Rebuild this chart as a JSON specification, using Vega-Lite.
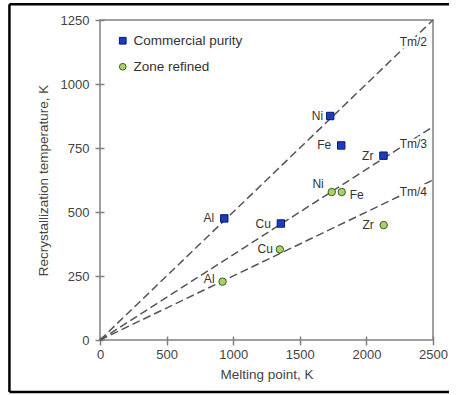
{
  "$schema": "https://vega.github.io/schema/vega-lite/v6.json",
  "width": 333,
  "height": 320,
  "autosize": {"type": "none"},
  "padding": {"left": 100, "top": 20, "right": 26, "bottom": 55},
  "background": "white",
  "config": {
    "font": "Liberation Sans",
    "view": {"stroke": "#808080", "strokeWidth": 1.5},
    "axis": {
      "domain": false,
      "grid": false,
      "offset": -4,
      "tickSize": 9,
      "tickColor": "#808080",
      "tickWidth": 1.5,
      "labelFlush": false,
      "labelFontSize": 13,
      "labelColor": "#444444",
      "titleFontSize": 13.5,
      "titleFontWeight": "normal",
      "titleColor": "#444444"
    },
    "legend": {
      "orient": "none",
      "legendX": 16,
      "legendY": 14,
      "padding": 0,
      "rowPadding": 11,
      "labelFontSize": 13.5,
      "labelColor": "#333333",
      "labelOffset": 4,
      "symbolSize": 45,
      "symbolStrokeWidth": 1
    }
  },
  "datasets": {
    "points": [
      {"metal": "Al", "purity": "Commercial purity", "tm": 933, "tr": 475},
      {"metal": "Cu", "purity": "Commercial purity", "tm": 1358, "tr": 455},
      {"metal": "Ni", "purity": "Commercial purity", "tm": 1728, "tr": 875},
      {"metal": "Fe", "purity": "Commercial purity", "tm": 1811, "tr": 760},
      {"metal": "Zr", "purity": "Commercial purity", "tm": 2128, "tr": 720},
      {"metal": "Al", "purity": "Zone refined", "tm": 920, "tr": 228},
      {"metal": "Cu", "purity": "Zone refined", "tm": 1350, "tr": 354},
      {"metal": "Ni", "purity": "Zone refined", "tm": 1740, "tr": 578},
      {"metal": "Fe", "purity": "Zone refined", "tm": 1815, "tr": 578},
      {"metal": "Zr", "purity": "Zone refined", "tm": 2130, "tr": 449}
    ],
    "lines": [
      {"series": "Tm/2", "tm": 0, "tr": 0},
      {"series": "Tm/2", "tm": 2500, "tr": 1250},
      {"series": "Tm/3", "tm": 0, "tr": 0},
      {"series": "Tm/3", "tm": 2500, "tr": 833.3},
      {"series": "Tm/4", "tm": 0, "tr": 0},
      {"series": "Tm/4", "tm": 2500, "tr": 625}
    ],
    "lineLabels": [
      {"label": "Tm/2", "tm": 2455, "tr": 1165},
      {"label": "Tm/3", "tm": 2455, "tr": 766},
      {"label": "Tm/4", "tm": 2455, "tr": 579}
    ],
    "frame": [
      {"side": "top", "x1": -680, "x2": 2620, "y1": 1312, "y2": 1312},
      {"side": "bottom", "x1": -680, "x2": 2620, "y1": -203, "y2": -203},
      {"side": "left", "x1": -680, "x2": -680, "y1": -203, "y2": 1312}
    ]
  },
  "layer": [
    {
      "data": {"name": "frame"},
      "mark": {"type": "rule", "stroke": "black", "strokeWidth": 2.5, "clip": false},
      "encoding": {
        "x": {"field": "x1", "type": "quantitative", "scale": {"domain": [0, 2500], "nice": false}},
        "x2": {"field": "x2"},
        "y": {"field": "y1", "type": "quantitative", "scale": {"domain": [0, 1250], "nice": false}},
        "y2": {"field": "y2"},
        "detail": {"field": "side"}
      }
    },
    {
      "data": {"name": "lines"},
      "mark": {"type": "line", "stroke": "#555555", "strokeWidth": 1.5, "strokeDash": [8, 4]},
      "encoding": {
        "x": {"field": "tm", "type": "quantitative"},
        "y": {"field": "tr", "type": "quantitative"},
        "detail": {"field": "series"}
      }
    },
    {
      "data": {"name": "points"},
      "mark": {"type": "point", "filled": true, "opacity": 1, "size": 55, "strokeWidth": 1},
      "encoding": {
        "x": {
          "field": "tm", "type": "quantitative",
          "title": "Melting point, K",
          "axis": {"values": [0, 500, 1000, 1500, 2000, 2500], "format": "d", "labelPadding": 3, "titlePadding": 6}
        },
        "y": {
          "field": "tr", "type": "quantitative",
          "title": "Recrystallization temperature, K",
          "axis": {"values": [0, 250, 500, 750, 1000, 1250], "format": "d", "labelPadding": 6, "titlePadding": 10}
        },
        "shape": {
          "field": "purity", "type": "nominal",
          "scale": {"domain": ["Commercial purity", "Zone refined"], "range": ["square", "circle"]},
          "legend": {"title": null}
        },
        "color": {
          "field": "purity", "type": "nominal",
          "scale": {"domain": ["Commercial purity", "Zone refined"], "range": ["#1b3cc8", "#a8d26a"]},
          "legend": {"title": null}
        },
        "stroke": {
          "field": "purity", "type": "nominal",
          "scale": {"domain": ["Commercial purity", "Zone refined"], "range": ["#0b1a5c", "#3d5e15"]},
          "legend": {"title": null}
        }
      }
    },
    {
      "data": {"name": "points"},
      "transform": [
        {"filter": "!((datum.metal === 'Fe' && datum.purity === 'Zone refined') || (datum.metal === 'Ni' && datum.purity === 'Zone refined') || (datum.metal === 'Ni' && datum.purity === 'Commercial purity') || (datum.metal === 'Cu' && datum.purity === 'Zone refined') || (datum.metal === 'Al' && datum.purity === 'Zone refined'))"}
      ],
      "mark": {"type": "text", "align": "right", "baseline": "middle", "dx": -10, "fontSize": 12, "color": "#333333"},
      "encoding": {
        "x": {"field": "tm", "type": "quantitative"},
        "y": {"field": "tr", "type": "quantitative"},
        "text": {"field": "metal"}
      }
    },
    {
      "data": {"name": "points"},
      "transform": [
        {"filter": "(datum.metal === 'Ni' && datum.purity === 'Commercial purity') || (datum.metal === 'Cu' && datum.purity === 'Zone refined')"}
      ],
      "mark": {"type": "text", "align": "right", "baseline": "middle", "dx": -7, "fontSize": 12, "color": "#333333"},
      "encoding": {
        "x": {"field": "tm", "type": "quantitative"},
        "y": {"field": "tr", "type": "quantitative"},
        "text": {"field": "metal"}
      }
    },
    {
      "data": {"name": "points"},
      "transform": [
        {"filter": "datum.metal === 'Al' && datum.purity === 'Zone refined'"}
      ],
      "mark": {"type": "text", "align": "right", "baseline": "middle", "dx": -8, "dy": -3, "fontSize": 12, "color": "#333333"},
      "encoding": {
        "x": {"field": "tm", "type": "quantitative"},
        "y": {"field": "tr", "type": "quantitative"},
        "text": {"field": "metal"}
      }
    },
    {
      "data": {"name": "points"},
      "transform": [
        {"filter": "datum.metal === 'Ni' && datum.purity === 'Zone refined'"}
      ],
      "mark": {"type": "text", "align": "right", "baseline": "middle", "dx": -8, "dy": -8, "fontSize": 12, "color": "#333333"},
      "encoding": {
        "x": {"field": "tm", "type": "quantitative"},
        "y": {"field": "tr", "type": "quantitative"},
        "text": {"field": "metal"}
      }
    },
    {
      "data": {"name": "points"},
      "transform": [
        {"filter": "datum.metal === 'Fe' && datum.purity === 'Zone refined'"}
      ],
      "mark": {"type": "text", "align": "left", "baseline": "middle", "dx": 8, "dy": 3, "fontSize": 12, "color": "#333333"},
      "encoding": {
        "x": {"field": "tm", "type": "quantitative"},
        "y": {"field": "tr", "type": "quantitative"},
        "text": {"field": "metal"}
      }
    },
    {
      "data": {"name": "lineLabels"},
      "mark": {"type": "text", "align": "right", "baseline": "middle", "fontSize": 12, "color": "white", "stroke": "white", "strokeWidth": 5},
      "encoding": {
        "x": {"field": "tm", "type": "quantitative"},
        "y": {"field": "tr", "type": "quantitative"},
        "text": {"field": "label"}
      }
    },
    {
      "data": {"name": "lineLabels"},
      "mark": {"type": "text", "align": "right", "baseline": "middle", "fontSize": 12, "color": "#333333"},
      "encoding": {
        "x": {"field": "tm", "type": "quantitative"},
        "y": {"field": "tr", "type": "quantitative"},
        "text": {"field": "label"}
      }
    }
  ]
}
